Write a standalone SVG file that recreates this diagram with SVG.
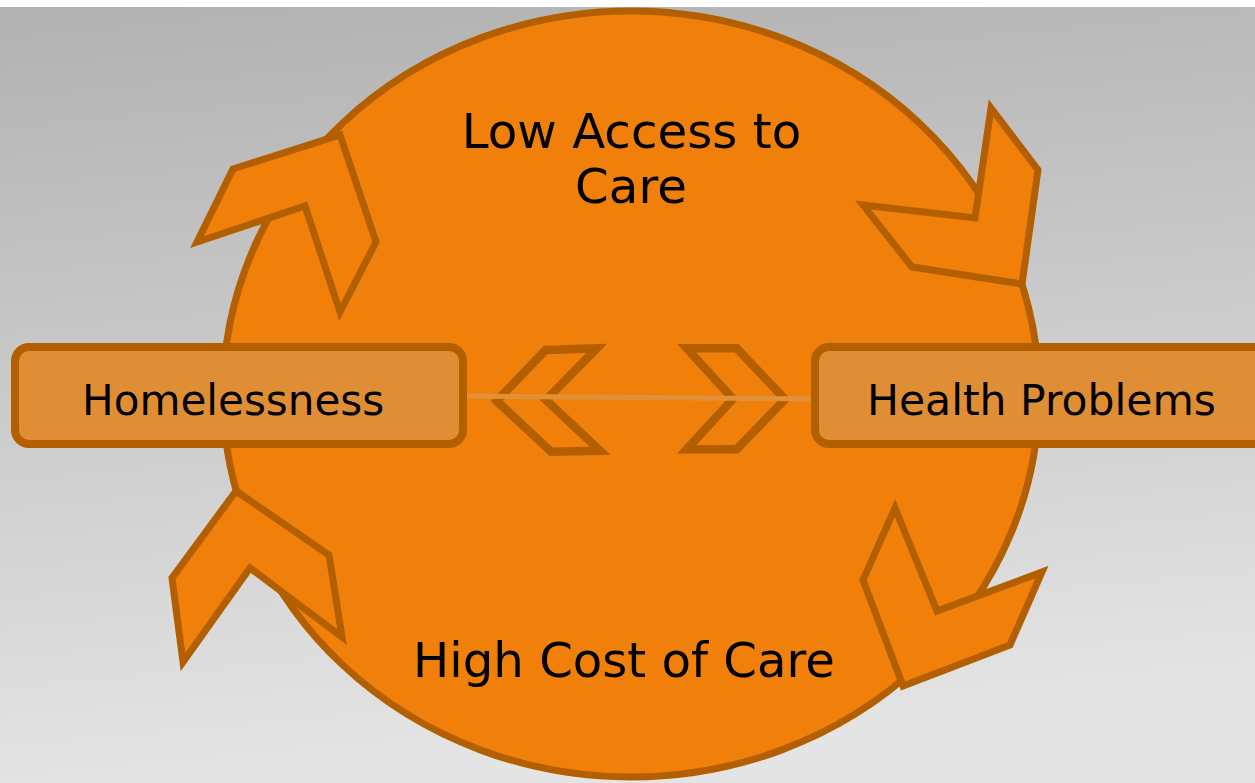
<svg xmlns="http://www.w3.org/2000/svg" width="1255" height="783" viewBox="0 0 1255 783">
<defs>
<linearGradient id="bg" x1="0" y1="0" x2="0.15" y2="1">
<stop offset="0" stop-color="#b1b1b1"/>
<stop offset="0.45" stop-color="#c8c8c8"/>
<stop offset="1" stop-color="#e4e4e4"/>
</linearGradient>
<style>
.cyc{fill:#F0800A;stroke:#B35F00;stroke-width:7;stroke-linejoin:miter;stroke-miterlimit:10}
.chev{fill:none;stroke:#B35F00;stroke-width:8.5;stroke-linejoin:miter;stroke-miterlimit:10}
.box{fill:#E08E35;stroke:#B35F00;stroke-width:8}
.link{stroke:#E0913A;stroke-width:5;fill:none}
.lbl{font-family:"DejaVu Sans","Verdana",sans-serif;fill:#000}
</style>
</defs>
<rect x="0" y="0" width="1255" height="783" fill="url(#bg)"/>
<rect x="0" y="0" width="1255" height="7" fill="#ffffff"/>
<g id="cycle">
<ellipse cx="631" cy="394" rx="408" ry="383" class="cyc"/>
<text class="lbl" x="631.5" y="148" font-size="48.3" text-anchor="middle">Low Access to</text>
<text class="lbl" x="631" y="203" font-size="48.3" text-anchor="middle">Care</text>
<text class="lbl" x="624" y="677" font-size="48.2" text-anchor="middle">High Cost of Care</text>
</g>
<g id="connectors">
<polygon class="cyc" points="233,169 340,135 376,242 340,312 305,206 197,242"/>
<polygon class="cyc" points="991,108 1038,170 1022,284 912,267 863,205 975,218"/>
<polygon class="cyc" points="895,508 937,611 1042,572 1010,645 903,686 863,580"/>
<polygon class="cyc" points="236,491 329,555 342,637 250,568 183,662 172,578"/>
<polygon class="chev" points="545.7,350 596.7,348.3 546,400 600,450.7 551,451.7 496.7,401"/>
<polygon class="chev" points="686.7,348.3 736.7,348.3 785,399.3 736.7,449.3 686.7,449.3 733,399"/>
<line class="link" x1="463" y1="396" x2="815" y2="399"/>
</g>
<g id="homelessness">
<rect class="box" x="15" y="347" width="448" height="97" rx="14"/>
<text class="lbl" x="82" y="415" font-size="42.1">Homelessness</text>
</g>
<g id="health-problems">
<rect class="box" x="815" y="347" width="460" height="97" rx="14"/>
<text class="lbl" x="867" y="415" font-size="42.5">Health Problems</text>
</g>
</svg>
